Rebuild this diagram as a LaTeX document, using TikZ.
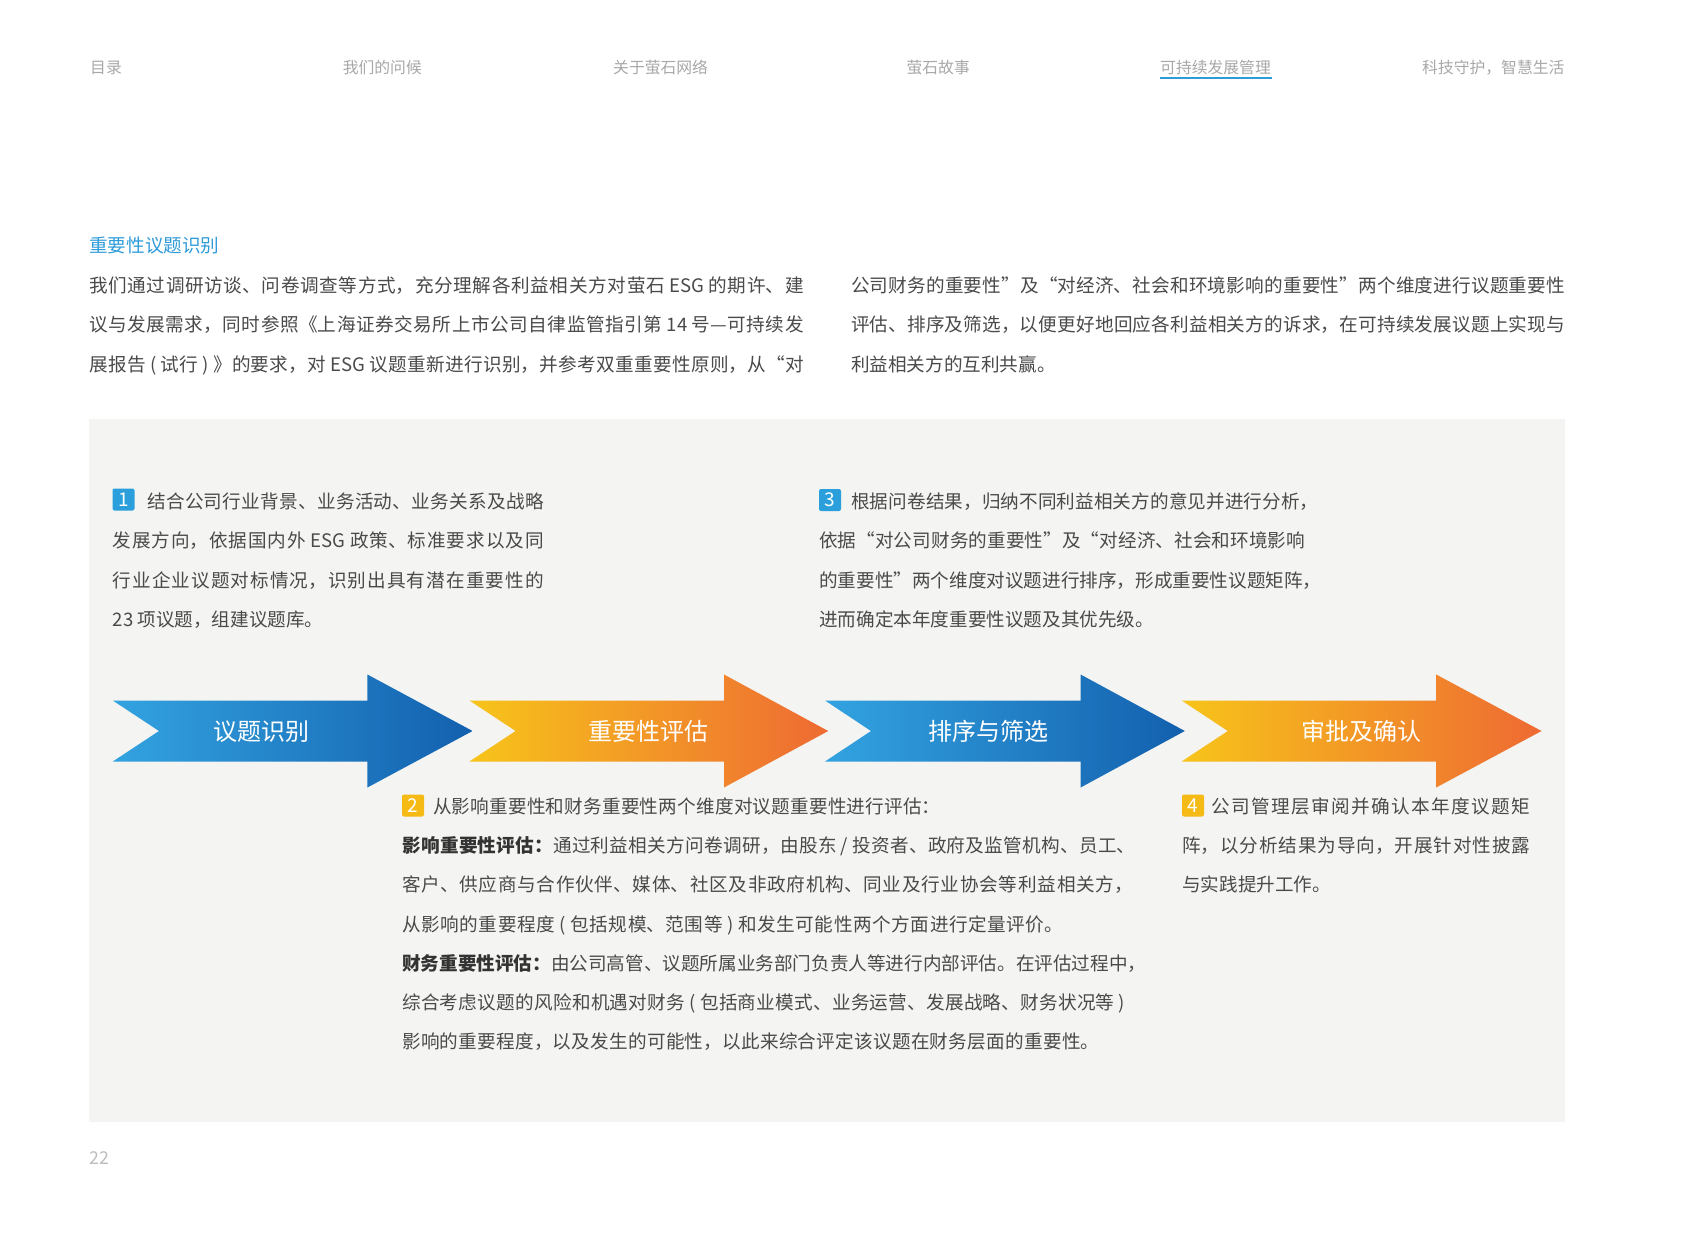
\documentclass[tikz,border=0pt]{standalone}
\usepackage{fontspec}
\setmainfont{Noto Sans CJK SC}
\XeTeXlinebreaklocale "zh"
\XeTeXlinebreakskip=0pt plus 4pt
\XeTeXlinebreakpenalty=10000
\definecolor{navgray}{HTML}{A8A8A8}
\definecolor{navblue}{HTML}{2F9CDA}
\definecolor{titleblue}{HTML}{2F9CDA}
\definecolor{bodytext}{HTML}{4A4A4A}
\definecolor{boldtext}{HTML}{333333}
\definecolor{boxgray}{HTML}{F4F4F2}
\definecolor{bluel}{HTML}{33A3E0}
\definecolor{bluer}{HTML}{1360AE}
\definecolor{orangel}{HTML}{F7C41A}
\definecolor{oranger}{HTML}{EE6A33}
\definecolor{badgeblue}{HTML}{2A9FDC}
\definecolor{badgeyellow}{HTML}{F6BA15}
\definecolor{pagegray}{HTML}{BDBDBD}
\newcommand{\fs}[1]{\fontsize{#1pt}{#1pt}\selectfont}
\newcommand{\jl}[2]{\parbox[b]{#1pt}{\parfillskip=0pt\relax #2}}
\newcommand{\hp}[1]{\makebox[0.45em][l]{#1}}
\newcommand{\bt}[1]{{\bfseries\color{boldtext}#1}}
\tikzset{
  nav/.style={anchor=base west, inner sep=0pt, text=navgray, font=\fs{15.8}},
  body/.style={anchor=base west, inner sep=0pt, text=bodytext, font=\fs{18.6}},
  lbl/.style={anchor=base, inner sep=0pt, text=white, font=\fs{24}},
  badge/.style={minimum size=22pt, inner sep=0pt, rounded corners=2pt, text=white, font=\fs{19}},
  bluearrow/.style={left color=bluel, right color=bluer},
  orangearrow/.style={left color=orangel, right color=oranger},
}
\begin{document}
\begin{tikzpicture}[x=1pt,y=-1pt]
\useasboundingbox (0,0) rectangle (1684,1241);
\fill[white] (0,0) rectangle (1684,1241);

% navigation
\node[nav] (n1) at (90,73.5) {目录};
\node[nav] (n2) at (342.6,73.5) {我们的问候};
\node[nav] (n3) at (613,73.5) {关于萤石网络};
\node[nav] (n4) at (906.4,73.5) {萤石故事};
\node[nav] (n5) at (1160,73.5) {可持续发展管理};
\node[nav] (n6) at (1422,73.5) {科技守护，智慧生活};
\draw[navblue, line width=2.2pt] (1160,77.7) -- (1271.6,77.7);

% title and intro
\node[body, text=titleblue] (title) at (89,252.1) {重要性议题识别};
\node[body] (p1) at (89,292.1) {\jl{714.5}{我们通过调研访谈、问卷调查等方式，充分理解各利益相关方对萤石~ESG~的期许、建}};
\node[body] (p2) at (89,331.6) {\jl{714.5}{议与发展需求，同时参照《上海证券交易所上市公司自律监管指引第~14~号—可持续发}};
\node[body] (p3) at (89,371.1) {\jl{714.5}{展报告~(~试行~)~》的要求，对~ESG~议题重新进行识别，并参考双重重要性原则，从“对}};
\node[body] (r1) at (850.8,292.1) {\jl{714.2}{公司财务的重要性”及“对经济、社会和环境影响的重要性”两个维度进行议题重要性}};
\node[body] (r2) at (850.8,331.6) {\jl{714.2}{评估、排序及筛选，以便更好地回应各利益相关方的诉求，在可持续发展议题上实现与}};
\node[body] (r3) at (850.8,371.1) {利益相关方的互利共赢。};

% grey panel
\fill[boxgray] (89,419) rectangle (1565,1122);

% step 1
\node[badge, fill=badgeblue] (b1) at (123.5,499.5) {1};
\node[body] (s1a) at (147,508.1) {\jl{396.5}{结合公司行业背景、业务活动、业务关系及战略}};
\node[body] (s1b) at (112.5,547.6) {\jl{431}{发展方向，依据国内外~ESG~政策、标准要求以及同}};
\node[body] (s1c) at (112.5,587.1) {\jl{431}{行业企业议题对标情况，识别出具有潜在重要性的}};
\node[body] (s1d) at (112.5,626.1) {23~项议题，组建议题库。};

% step 3
\node[badge, fill=badgeblue] (b3) at (830,500) {3};
\node[body] (s3a) at (851,508.1) {\jl{457}{根据问卷结果，归纳不同利益相关方的意见并进行分析\hp{，}}};
\node[body] (s3b) at (819,547.6) {\jl{486}{依据“对公司财务的重要性”及“对经济、社会和环境影响}};
\node[body] (s3c) at (819,587.1) {\jl{489}{的重要性”两个维度对议题进行排序，形成重要性议题矩阵\hp{，}}};
\node[body] (s3d) at (819,626.1) {进而确定本年度重要性议题及其优先级。};

% arrows
\shade[bluearrow] (112.8,700.5) -- (367.4,700.5) -- (367.4,674.5) -- (472.6,731) -- (367.4,787.5) -- (367.4,761.5) -- (112.8,761.5) -- (159,731) -- cycle;
\shade[orangearrow] (469.4,700.5) -- (724,700.5) -- (724,674.5) -- (828.2,731) -- (724,787.5) -- (724,761.5) -- (469.4,761.5) -- (515.6,731) -- cycle;
\shade[bluearrow] (825,700.5) -- (1080.6,700.5) -- (1080.6,674.5) -- (1184.8,731) -- (1080.6,787.5) -- (1080.6,761.5) -- (825,761.5) -- (871,731) -- cycle;
\shade[orangearrow] (1181.6,700.5) -- (1436.2,700.5) -- (1436.2,674.5) -- (1541.5,731) -- (1436.2,787.5) -- (1436.2,761.5) -- (1181.6,761.5) -- (1227.8,731) -- cycle;
\node[lbl] (l1) at (261,740.1) {议题识别};
\node[lbl] (l2) at (648,740.1) {重要性评估};
\node[lbl] (l3) at (988,740.1) {排序与筛选};
\node[lbl] (l4) at (1361.5,740.1) {审批及确认};

% step 2
\node[badge, fill=badgeyellow] (b2) at (413,805.5) {2};
\node[body] (s2a) at (433,813.1) {\jl{497}{从影响重要性和财务重要性两个维度对议题重要性进行评估\hp{：}}};
\node[body] (s2b) at (402,852.4) {\jl{723}{\bt{影响重要性评估：}通过利益相关方问卷调研，由股东~/~投资者、政府及监管机构、员工\hp{、}}};
\node[body] (s2c) at (402,891.7) {\jl{720.5}{客户、供应商与合作伙伴、媒体、社区及非政府机构、同业及行业协会等利益相关方\hp{，}}};
\node[body] (s2d) at (402,931) {\jl{661}{从影响的重要程度~(~包括规模、范围等~)~和发生可能性两个方面进行定量评价。}};
\node[body] (s2e) at (402,970.3) {\jl{730}{\bt{财务重要性评估：}由公司高管、议题所属业务部门负责人等进行内部评估。在评估过程中\hp{，}}};
\node[body] (s2f) at (402,1009.6) {\jl{723}{综合考虑议题的风险和机遇对财务~(~包括商业模式、业务运营、发展战略、财务状况等~)}};
\node[body] (s2g) at (402,1048.9) {\jl{697}{影响的重要程度，以及发生的可能性，以此来综合评定该议题在财务层面的重要性。}};

% step 4
\node[badge, fill=badgeyellow] (b4) at (1193,805.5) {4};
\node[body] (s4a) at (1211,813.1) {\jl{319}{公司管理层审阅并确认本年度议题矩}};
\node[body] (s4b) at (1182,852.4) {\jl{348}{阵，以分析结果为导向，开展针对性披露}};
\node[body] (s4c) at (1182,891.7) {与实践提升工作。};

% page number
\node[anchor=base west, inner sep=0pt, text=pagegray, font=\fs{17.7}] (pg) at (89,1164.5) {22};
\end{tikzpicture}
\end{document}
